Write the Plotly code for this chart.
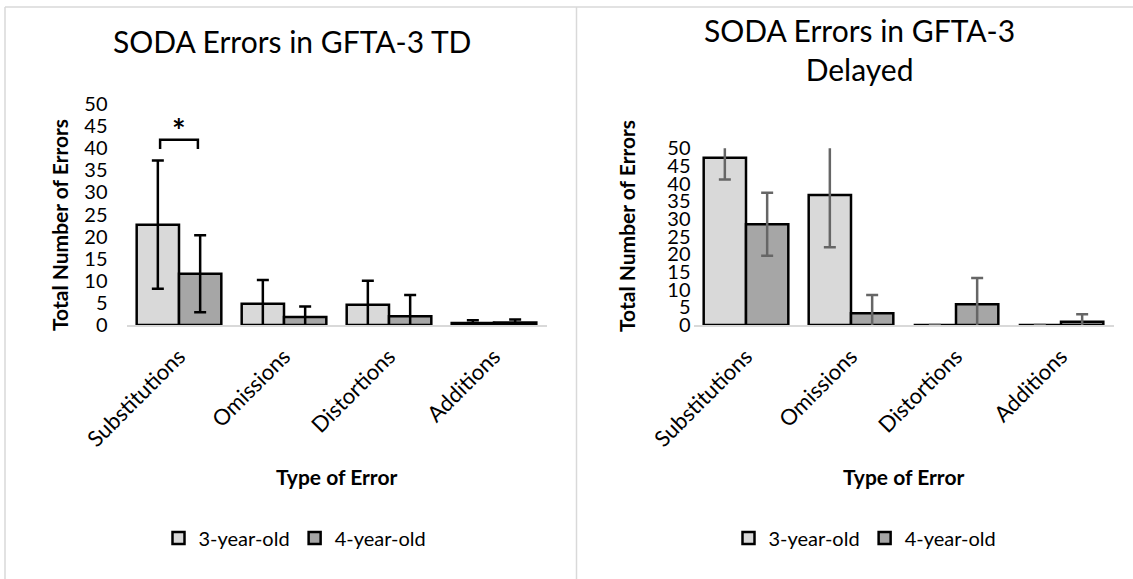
import plotly.graph_objects as go

categories = ["Substitutions", "Omissions", "Distortions", "Additions"]
series_names = ["3-year-old", "4-year-old"]

td_3yo = [22.7, 4.8, 4.6, 0.45]
td_3yo_err = [14.5, 5.4, 5.4, 0.6]
td_4yo = [11.6, 1.8, 2.0, 0.55]
td_4yo_err = [8.7, 2.4, 4.8, 0.7]

del_3yo = [47.3, 36.8, 0, 0]
del_3yo_err = [6.1, 14.8, 0, 0]
del_4yo = [28.5, 3.3, 5.9, 0.95]
del_4yo_err = [8.9, 5.2, 7.4, 2.1]

left_title = "SODA Errors in GFTA-3 TD"
right_title = "SODA Errors in GFTA-3<br>Delayed"
y_title = "Total Number of Errors"
x_title = "Type of Error"
y_ticks = [0, 5, 10, 15, 20, 25, 30, 35, 40, 45, 50]

W, H = 1133, 579
FONT = "Lato, Carlito, sans-serif"
C3 = "#d9d9d9"
C4 = "#a6a6a6"


def px_x(p):
    return p / W


def px_y(p):
    return 1 - p / H


fig = go.Figure()

fig.add_trace(go.Bar(x=categories, y=td_3yo, name=series_names[0],
                     marker=dict(color=C3, line=dict(color="black", width=2.5)),
                     error_y=dict(type="data", array=td_3yo_err, color="black", thickness=2.5, width=6),
                     xaxis="x", yaxis="y", legend="legend"))
fig.add_trace(go.Bar(x=categories, y=td_4yo, name=series_names[1],
                     marker=dict(color=C4, line=dict(color="black", width=2.5)),
                     error_y=dict(type="data", array=td_4yo_err, color="black", thickness=2.5, width=6),
                     xaxis="x", yaxis="y", legend="legend"))
fig.add_trace(go.Bar(x=categories, y=del_3yo, name=series_names[0],
                     marker=dict(color=C3, line=dict(color="black", width=2.5)),
                     error_y=dict(type="data", array=del_3yo_err, color="#666666", thickness=2.5, width=6),
                     xaxis="x2", yaxis="y2", legend="legend2"))
fig.add_trace(go.Bar(x=categories, y=del_4yo, name=series_names[1],
                     marker=dict(color=C4, line=dict(color="black", width=2.5)),
                     error_y=dict(type="data", array=del_4yo_err, color="#666666", thickness=2.5, width=6),
                     xaxis="x2", yaxis="y2", legend="legend2"))

axis_common_x = dict(type="category", showgrid=False, showline=True, linecolor="#d9d9d9", linewidth=2,
                     ticks="", tickangle=-45, tickfont=dict(family=FONT, size=22, color="black"),
                     ticklabelstandoff=8,
                     automargin=False, zeroline=False, fixedrange=True)
axis_common_y = dict(range=[0, 50], tickvals=y_ticks, showgrid=False, showline=False, zeroline=False,
                     ticks="", tickfont=dict(family=FONT, size=20, color="black"), automargin=False,
                     fixedrange=True)

fig.update_layout(
    width=W, height=H,
    margin=dict(l=0, r=0, t=0, b=0),
    paper_bgcolor="white", plot_bgcolor="white",
    template="none",
    barmode="group", bargap=0.194, bargroupgap=0,
    font=dict(family=FONT, color="black"),
    xaxis=dict(domain=[px_x(126.5), px_x(546.5)], anchor="y", **axis_common_x),
    yaxis=dict(domain=[px_y(325), px_y(104)], anchor="x", ticklabelstandoff=18, **axis_common_y),
    xaxis2=dict(domain=[px_x(693.5), px_x(1113.5)], anchor="y2", **axis_common_x),
    yaxis2=dict(domain=[px_y(325), px_y(148.3)], anchor="x2", ticklabelstandoff=2, **axis_common_y),
    legend=dict(orientation="h", x=px_x(295), y=px_y(538), xanchor="center", yanchor="middle",
                font=dict(family=FONT, size=20, color="black"), bgcolor="rgba(0,0,0,0)"),
    legend2=dict(orientation="h", x=px_x(865), y=px_y(538), xanchor="center", yanchor="middle",
                 font=dict(family=FONT, size=20, color="black"), bgcolor="rgba(0,0,0,0)"),
)

# Panel borders
line_style = dict(color="#d9d9d9", width=1.5)
fig.add_shape(type="line", xref="paper", yref="paper", x0=px_x(5), x1=1, y0=px_y(7), y1=px_y(7), line=line_style)
fig.add_shape(type="line", xref="paper", yref="paper", x0=px_x(5), x1=px_x(5), y0=px_y(7), y1=0, line=line_style)
fig.add_shape(type="line", xref="paper", yref="paper", x0=px_x(576.5), x1=px_x(576.5), y0=px_y(7), y1=0, line=line_style)

# Significance bracket
fig.add_shape(type="path", xref="x", yref="y",
              path="M -0.18,39.8 L -0.18,41.9 L 0.18,41.9 L 0.18,39.8",
              line=dict(color="black", width=2.5))
fig.add_annotation(x=0, y=44.0, xref="x", yref="y", text="<b>*</b>", showarrow=False,
                   font=dict(family=FONT, size=32, color="black"))

# Titles
fig.add_annotation(x=px_x(291.5), y=px_y(41), xref="paper", yref="paper", text=left_title, showarrow=False,
                   xanchor="center", yanchor="middle", font=dict(family=FONT, size=30, color="black"))
fig.add_annotation(x=px_x(859.5), y=px_y(49.5), xref="paper", yref="paper", text=right_title, showarrow=False,
                   xanchor="center", yanchor="middle", font=dict(family=FONT, size=30, color="black"))

# Axis titles
for xc, yc in [(59, 225), (626, 226)]:
    fig.add_annotation(x=px_x(xc), y=px_y(yc), xref="paper", yref="paper", text="<b>" + y_title + "</b>",
                       textangle=-90, showarrow=False, xanchor="center", yanchor="middle",
                       font=dict(family=FONT, size=21, color="black"))
for xc in [336.5, 903.5]:
    fig.add_annotation(x=px_x(xc), y=px_y(476), xref="paper", yref="paper", text="<b>" + x_title + "</b>",
                       showarrow=False, xanchor="center", yanchor="middle",
                       font=dict(family=FONT, size=21, color="black"))

fig.write_html("out.html")
